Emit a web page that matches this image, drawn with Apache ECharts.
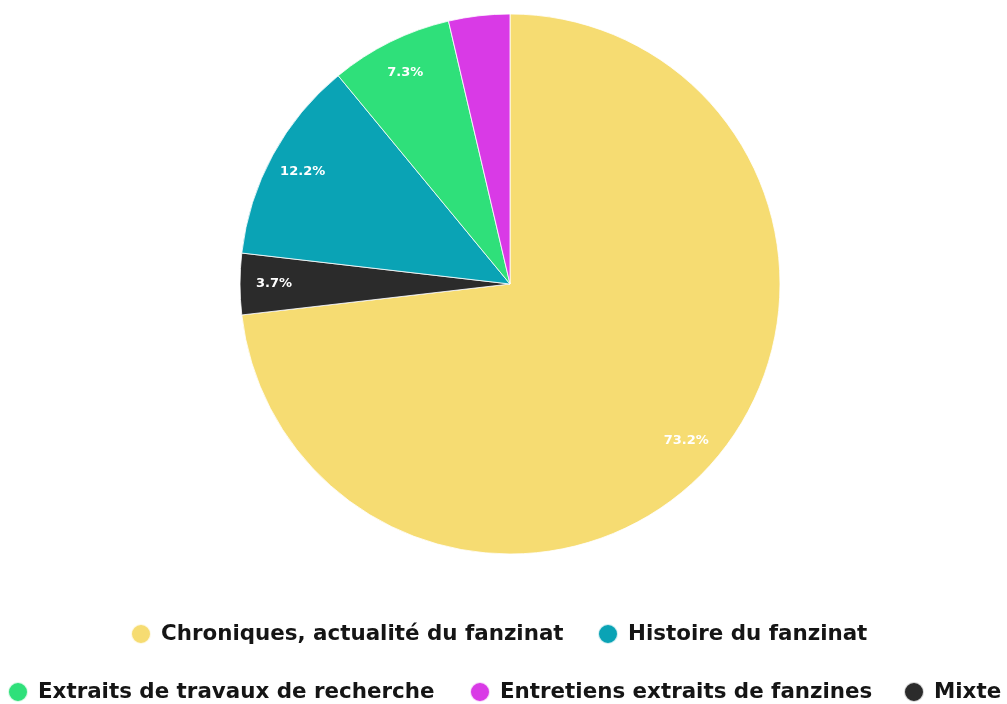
<!DOCTYPE html>
<html><head><meta charset="utf-8">
<script src="https://cdn.jsdelivr.net/npm/echarts@6/dist/echarts.min.js"></script>
<style>html,body{margin:0;padding:0;background:#fff}#c{width:1007px;height:704px}</style>
</head><body><div id="c"></div>
<script>
// Slice order (clockwise from 12 o'clock)
const categories = ["Chroniques, actualité du fanzinat", "Mixte", "Histoire du fanzinat", "Extraits de travaux de recherche", "Entretiens extraits de fanzines"];
const values = [60, 3, 10, 6, 3];
const colors = ["#F6DC72", "#2B2B2B", "#0AA3B5", "#2FE07A", "#D93AE6"];
const showLabel = [true, true, true, true, false];
// legend items in reading order, by row
const legendRow1 = ["Chroniques, actualité du fanzinat", "Histoire du fanzinat"];
const legendRow2 = ["Extraits de travaux de recherche", "Entretiens extraits de fanzines", "Mixte"];

const total = values.reduce((a, b) => a + b, 0);
const chart = echarts.init(document.getElementById('c'));
const baseData = categories.map((n, i) => ({ name: n, value: values[i], itemStyle: { color: colors[i] } }));
const legendText = { fontFamily: 'DejaVu Sans', fontWeight: 'bold', fontSize: 21.4, color: '#151515' };
const row1Left = [130, 597];
const row2Left = [7, 469, 903];
const mkLegend = (name, left, top) => ({ data: [name], left: left, top: top, icon: 'circle', itemWidth: 30, itemHeight: 20, padding: 0, textStyle: legendText });
const legends = [];
legendRow1.forEach((n, i) => legends.push(mkLegend(n, row1Left[i], 623)));
legendRow2.forEach((n, i) => legends.push(mkLegend(n, row2Left[i], 681)));
chart.setOption({
  backgroundColor: '#fff',
  animation: false,
  legend: legends,
  series: [
    {
      type: 'pie', center: [510, 284], radius: [0, 270], startAngle: 90, clockwise: true,
      label: { show: false }, labelLine: { show: false },
      itemStyle: { borderColor: 'rgba(255,255,255,0.8)', borderWidth: 1 },
      data: baseData
    },
    {
      type: 'pie', center: [510, 284], radius: [196, 270], startAngle: 90, clockwise: true,
      silent: true, legendHoverLink: false,
      itemStyle: { color: 'rgba(0,0,0,0)' },
      label: {
        position: 'inside', color: '#fff', fontFamily: 'DejaVu Sans', fontWeight: 'bold', fontSize: 13,
        formatter: p => (p.value / total * 100).toFixed(1) + '%'
      },
      labelLine: { show: false },
      data: categories.map((n, i) => ({ name: n + ' ', value: values[i], label: { show: showLabel[i] } }))
    }
  ]
});
</script></body></html>
